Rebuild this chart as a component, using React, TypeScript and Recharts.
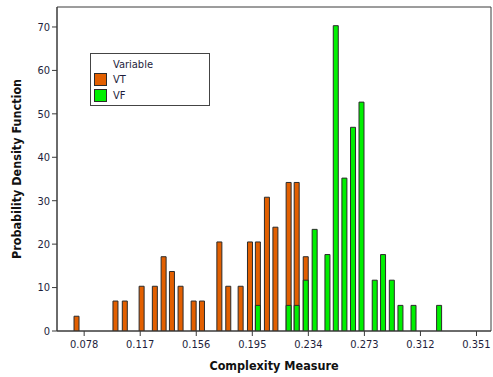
import {
    BarChart,
    Bar,
    XAxis,
    YAxis,
    ReferenceArea,
} from "recharts";

// bin midpoints (complexity measure)
const binMids = [
    0.073, 0.1001, 0.1066, 0.1183, 0.1275, 0.1336, 0.1394, 0.1454, 0.1545, 0.1603,
    0.1724, 0.1786, 0.1872, 0.1937, 0.1992, 0.2055, 0.2114, 0.2206, 0.2262, 0.2325,
    0.2387, 0.2476, 0.2534, 0.2594, 0.2654, 0.2713, 0.2805, 0.2863, 0.2924, 0.2984,
    0.3075, 0.3253,
];

const vtDensity = [
    3.4, 6.9, 6.9, 10.3, 10.3, 17.1, 13.7, 10.3, 6.9, 6.9,
    20.5, 10.3, 10.3, 20.5, 20.5, 30.8, 23.9, 34.2, 34.2, 17.1,
    null, null, null, null, null, null, null, null, null, null,
    null, null,
];

const vfDensity = [
    null, null, null, null, null, null, null, null, null, null,
    null, null, null, null, 5.9, null, null, 5.9, 5.9, 11.7,
    23.4, 17.6, 70.3, 35.2, 46.9, 52.7, 11.7, 17.6, 11.7, 5.9,
    5.9, 5.9,
];

const xTicks = [0.078, 0.117, 0.156, 0.195, 0.234, 0.273, 0.312, 0.351];
const yTicks = [0, 10, 20, 30, 40, 50, 60, 70];

const series = [
    { key: "VT", color: "#e25f00" },
    { key: "VF", color: "#00f000" },
];

const xDomain: [number, number] = [0.0591, 0.3611];
const yDomain: [number, number] = [0, 74.6];

const data = binMids.map((x, i) => ({ x, VT: vtDensity[i], VF: vfDensity[i] }));

const font = "'DejaVu Sans Condensed', 'DejaVu Sans', sans-serif";
const tickStyle = { fill: "#1e1e3c", fontSize: 11, fontFamily: font };

export default function App() {
    return (
        <div style={{ position: "absolute", left: 0, top: 0, width: 493, height: 377, background: "#fff" }}>
            <BarChart
                width={493}
                height={377}
                data={data}
                margin={{ top: 7, right: 2, left: 0, bottom: 0 }}
                barGap={0}
            >
                <XAxis
                    xAxisId="vf"
                    dataKey="x"
                    type="number"
                    domain={xDomain}
                    allowDataOverflow
                    height={0}
                    hide
                />
                <XAxis
                    xAxisId="vt"
                    dataKey="x"
                    type="number"
                    domain={xDomain}
                    ticks={xTicks}
                    allowDataOverflow
                    height={46}
                    stroke="#3a3a3a"
                    tick={tickStyle}
                    tickSize={5}
                    tickMargin={4}
                    label={{
                        content: ({ viewBox }: any) => (
                            <text
                                x={viewBox.x + viewBox.width / 2}
                                y={370}
                                textAnchor="middle"
                                fontFamily={font}
                                fontSize={12.5}
                                fontWeight="bold"
                                fill="#111"
                            >
                                Complexity Measure
                            </text>
                        ),
                    }}
                />
                <YAxis
                    type="number"
                    domain={yDomain}
                    ticks={yTicks}
                    allowDataOverflow
                    width={57}
                    stroke="#3a3a3a"
                    tick={tickStyle}
                    tickSize={5}
                    tickMargin={2}
                    label={{
                        content: ({ viewBox }: any) => {
                            const cy = viewBox.y + viewBox.height / 2;
                            return (
                                <text
                                    x={16}
                                    y={cy}
                                    transform={`rotate(-90 16 ${cy})`}
                                    textAnchor="middle"
                                    dominantBaseline="central"
                                    fontFamily={font}
                                    fontSize={12.5}
                                    fontWeight="bold"
                                    fill="#111"
                                >
                                    Probability Density Function
                                </text>
                            );
                        },
                    }}
                />
                <ReferenceArea
                    xAxisId="vt"
                    x1={xDomain[0]}
                    x2={xDomain[1]}
                    y1={yDomain[0]}
                    y2={yDomain[1]}
                    fill="none"
                    stroke="#3a3a3a"
                    ifOverflow="visible"
                />
                <Bar
                    xAxisId="vt"
                    dataKey="VT"
                    fill={series[0].color}
                    stroke="#2b2b2b"
                    strokeWidth={1}
                    barSize={5}
                    isAnimationActive={false}
                />
                <Bar
                    xAxisId="vf"
                    dataKey="VF"
                    fill={series[1].color}
                    stroke="#2b2b2b"
                    strokeWidth={1}
                    barSize={5}
                    isAnimationActive={false}
                />
            </BarChart>

            <div
                style={{
                    position: "absolute",
                    left: 90,
                    top: 53,
                    width: 118,
                    height: 51,
                    border: "1px solid #444",
                    fontFamily: font,
                    fontSize: 11,
                    color: "#1e1e3c",
                    background: "#fff",
                }}
            >
                <div style={{ position: "absolute", left: 22, top: 4 }}>Variable</div>
                {series.map((s, i) => (
                    <div
                        key={s.key}
                        style={{ position: "absolute", left: 3, top: 19 + i * 16, display: "flex", alignItems: "center" }}
                    >
                        <div
                            style={{
                                width: 11,
                                height: 11,
                                background: s.color,
                                border: "1px solid #2b2b2b",
                                marginRight: 6,
                            }}
                        />
                        <span>{s.key}</span>
                    </div>
                ))}
            </div>
        </div>
    );
}
